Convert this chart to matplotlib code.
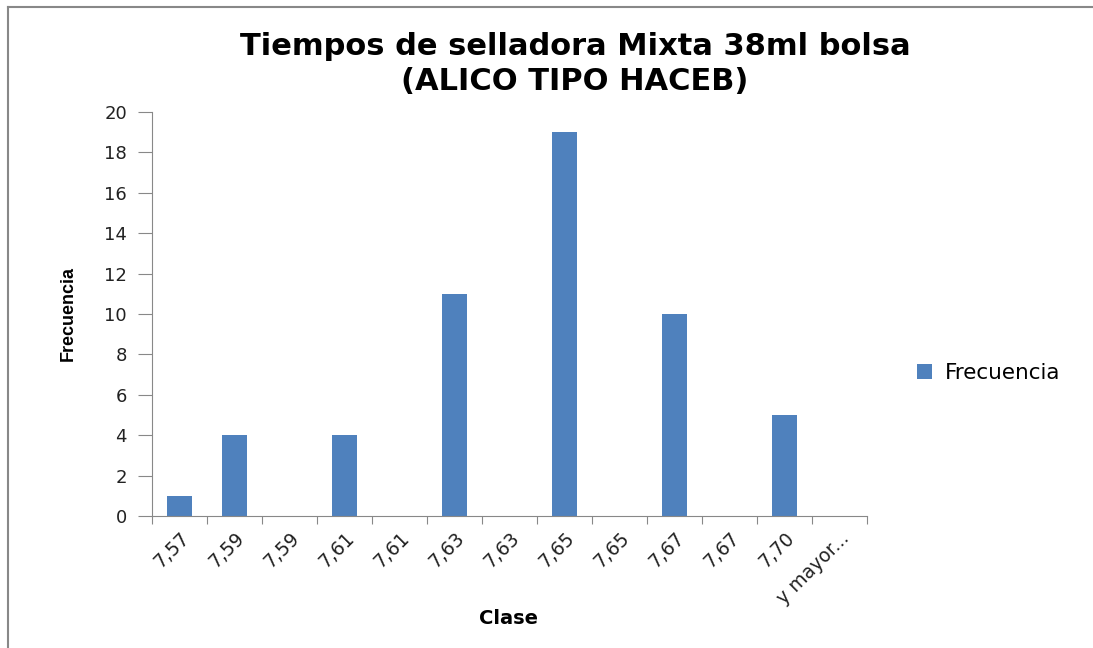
import matplotlib.pyplot as plt
from matplotlib.lines import Line2D
import numpy as np

clases = ["7,57", "7,59", "7,59", "7,61", "7,61", "7,63", "7,63",
          "7,65", "7,65", "7,67", "7,67", "7,70", "y mayor..."]
frecuencia = [1, 4, 0, 4, 0, 11, 0, 19, 0, 10, 0, 5, 0]
yticks = [0, 2, 4, 6, 8, 10, 12, 14, 16, 18, 20]

W, H = 1093, 648
fig = plt.figure(figsize=(W / 100, H / 100), dpi=100)
ax = fig.add_axes([152 / W, 1 - 516 / H, (867 - 152) / W, (516 - 112) / H])

x = np.arange(len(clases))
ax.bar(x, frecuencia, width=0.44, color="#4F81BD", label="Frecuencia", zorder=2)

ax.set_xlim(-0.5, len(clases) - 0.5)
ax.set_ylim(0, 20)
ax.set_yticks(yticks)
ax.set_yticklabels([str(v) for v in yticks], fontsize=13, color="#222222")

# ticks on category boundaries, labels centred in categories
ax.set_xticks(np.arange(len(clases) + 1) - 0.5)
ax.set_xticklabels([])
ax.set_xticks(x, minor=True)
ax.set_xticklabels(clases, minor=True, rotation=45, ha="right",
                   rotation_mode="anchor", fontsize=13.5, color="#222222")
ax.tick_params(axis="x", which="minor", length=0, pad=9)
ax.tick_params(axis="x", which="major", length=6, color="#888888")
ax.tick_params(axis="y", length=10, color="#888888", pad=8)

for s in ["top", "right"]:
    ax.spines[s].set_visible(False)
ax.spines["left"].set_color("#888888")
ax.spines["bottom"].set_color("#888888")

fig.text(575 / W, 1 - 64 / H, "Tiempos de selladora Mixta 38ml bolsa\n(ALICO TIPO HACEB)",
         ha="center", va="center", fontsize=22, fontweight="bold", linespacing=1.3)
fig.text(508 / W, 1 - 618 / H, "Clase", ha="center", va="center",
         fontsize=14, fontweight="bold")
fig.text(68 / W, 1 - 314 / H, "Frecuencia", ha="center", va="center", rotation=90,
         fontsize=13, fontweight="bold", family="Liberation Sans")

ax.legend(loc="center left", bbox_to_anchor=(898 / W, 1 - 373 / H),
          bbox_transform=fig.transFigure, frameon=False, fontsize=15.5,
          handlelength=0.7, handleheight=0.7, handletextpad=0.6)

# chart frame
fig.add_artist(Line2D([8 / W, 8 / W], [0, 1 - 7 / H], color="#888888", lw=1.5))
fig.add_artist(Line2D([8 / W, 1], [1 - 7 / H, 1 - 7 / H], color="#888888", lw=1.5))

fig.savefig("out.png", dpi=100)
